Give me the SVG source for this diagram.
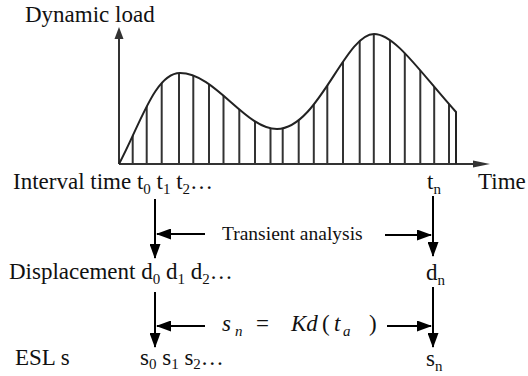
<svg xmlns="http://www.w3.org/2000/svg" width="528" height="376" viewBox="0 0 528 376">
<style>
  .t { font-family: "Liberation Serif", "Times New Roman", serif; font-size: 23px; fill: #111; }
  .sub { font-size: 15px; }
  .small { font-size: 19.5px; }
  .it { font-style: italic; }
  .axis { stroke: #333; stroke-width: 2; fill: none; }
  .curve { stroke: #222; stroke-width: 2; fill: none; }
  .hatch { stroke: #333; stroke-width: 2; }
  .arr { stroke: #000; stroke-width: 2; fill: none; marker-end: url(#ah); }
</style>
<defs>
  <marker id="ah" markerUnits="userSpaceOnUse" markerWidth="15" markerHeight="11" viewBox="0 0 15 11" refX="14" refY="5.5" orient="auto">
    <path d="M0,0 L15,5.5 L0,11 z" fill="#000"/>
  </marker>
  <clipPath id="under">
    <path d="M119,164 C140,125 155,73 180,73 C215,73 245,129 277,129 C318,129 345,34 374,34 C395,34 420,72 456,112 L456,164 Z"/>
  </clipPath>
</defs>

<g id="chart">
  <line class="axis" x1="119" y1="164" x2="119" y2="37"/>
  <polygon points="114.5,39 119,27 123.5,39" fill="#333"/>
  <line class="axis" x1="119" y1="164" x2="476" y2="164"/>
  <polygon points="473,160.5 490,164 473,167.5" fill="#333"/>
  <g clip-path="url(#under)">
    <path class="hatch" d="M132.7,164V20 M146.7,164V20 M161.7,164V20 M179,164V20 M193.3,164V20 M209,164V20 M223.5,164V20 M239.3,164V20 M255,164V20 M270.5,164V20 M282.7,164V20 M298.7,164V20 M313.8,164V20 M327.3,164V20 M343,164V20 M359.7,164V20 M373.8,164V20 M390,164V20 M404.8,164V20 M420.3,164V20 M434.2,164V20 M449,164V20"/>
  </g>
  <path class="curve" d="M119,164 C140,125 155,73 180,73 C215,73 245,129 277,129 C318,129 345,34 374,34 C395,34 420,72 456,112 L456,164"/>
</g>

<g id="label-dynamic-load"><text class="t" x="25" y="22">Dynamic load</text></g>
<g id="label-time"><text class="t" x="478" y="189">Time</text></g>

<g id="node-interval"><text class="t" x="13" y="189">Interval time t<tspan class="sub" dy="5">0</tspan><tspan dy="-5"> t</tspan><tspan class="sub" dy="5">1</tspan><tspan dy="-5"> t</tspan><tspan class="sub" dy="5">2</tspan><tspan dy="-5">…</tspan></text></g>
<g id="node-tn"><text class="t" x="427" y="189">t<tspan class="sub" dy="5">n</tspan></text></g>

<g id="node-displacement"><text class="t" x="9" y="279">Displacement d<tspan class="sub" dy="5">0</tspan><tspan dy="-5"> d</tspan><tspan class="sub" dy="5">1</tspan><tspan dy="-5"> d</tspan><tspan class="sub" dy="5">2</tspan><tspan dy="-5">…</tspan></text></g>
<g id="node-dn"><text class="t" x="426" y="280">d<tspan class="sub" dy="5">n</tspan></text></g>

<g id="node-esl"><text class="t" x="15" y="365">ESL s</text></g>
<g id="node-s"><text class="t" x="140" y="365">s<tspan class="sub" dy="4">0</tspan><tspan dy="-4"> s</tspan><tspan class="sub" dy="4">1</tspan><tspan dy="-4"> s</tspan><tspan class="sub" dy="4">2</tspan><tspan dy="-4">…</tspan></text></g>
<g id="node-sn"><text class="t" x="426" y="366">s<tspan class="sub" dy="5">n</tspan></text></g>

<g id="label-transient"><text class="t small" x="222" y="240">Transient analysis</text></g>
<g id="label-formula">
  <text class="t it" x="222" y="331">s</text>
  <text class="t it sub" x="235" y="336">n</text>
  <text class="t" x="256" y="331">=</text>
  <text class="t it" x="291" y="331">Kd</text>
  <text class="t" x="322" y="331">(</text>
  <text class="t it" x="334" y="331">t</text>
  <text class="t it sub" x="343" y="336">a</text>
  <text class="t" x="369" y="331">)</text>
</g>

<g id="connectors">
  <line class="arr" x1="155" y1="199" x2="155" y2="258"/>
  <line class="arr" x1="433" y1="196" x2="433" y2="256"/>
  <line class="arr" x1="205" y1="234" x2="157" y2="234"/>
  <line class="arr" x1="385" y1="235" x2="431" y2="235"/>
  <line class="arr" x1="155" y1="292" x2="155" y2="347"/>
  <line class="arr" x1="433" y1="287" x2="433" y2="347"/>
  <line class="arr" x1="205" y1="326" x2="157" y2="326"/>
  <line class="arr" x1="387" y1="326" x2="431" y2="326"/>
</g>
</svg>
